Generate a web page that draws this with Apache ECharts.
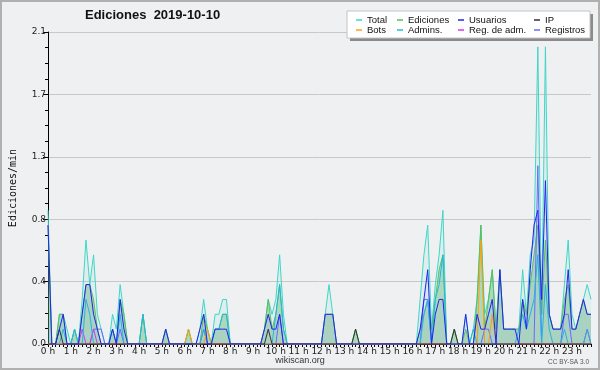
<!DOCTYPE html>
<html><head><meta charset="utf-8">
<script src="https://cdn.jsdelivr.net/npm/echarts@6/dist/echarts.min.js"></script>
<style>html,body{margin:0;padding:0;background:#eff0f1}#c{width:600px;height:370px}</style>
</head><body><div id="c"></div>
<script>
const hourLabels = ['0 h','1 h','2 h','3 h','4 h','5 h','6 h','7 h','8 h','9 h','10 h','11 h','12 h','13 h','14 h','15 h','16 h','17 h','18 h','19 h','20 h','21 h','22 h','23 h'];
const minuteSlots = ['00','10','20','30','40','50'];
const yTicks = [0, 0.42, 0.84, 1.26, 1.68, 2.1];

const total = [
 0.9,0,0,0.2,0.2,0.1, 0,0.1,0,0.3,0.7,0.4,
 0.6,0.2,0.1,0,0,0.2, 0.1,0.4,0.2,0,0,0,
 0,0.2,0,0,0,0, 0,0.1,0,0,0,0,
 0,0.1,0,0,0.1,0.3, 0.1,0,0.2,0.2,0.3,0.3,
 0,0,0,0,0,0, 0,0,0,0.1,0.3,0.2,
 0.3,0.6,0.2,0,0,0, 0,0,0,0,0,0,
 0,0.2,0.4,0.2,0,0, 0,0,0,0.1,0,0,
 0,0,0,0,0,0, 0,0,0,0,0,0,
 0,0,0.3,0.6,0.8,0.1, 0.4,0.6,0.9,0,0,0.1,
 0,0,0.2,0,0.1,0.3, 0.8,0.2,0.3,0.5,0.1,0.5,
 0.1,0.1,0.1,0.1,0.1,0.5, 0.2,0.6,0.7,2.0,0.2,2.0,
 0.2,0.1,0.1,0.1,0.4,0.7, 0.2,0.1,0.2,0.3,0.4,0.3
];
const ediciones = [
 0.8,0,0,0.2,0.2,0, 0,0.1,0,0.2,0.4,0.4,
 0.3,0.1,0,0,0,0.1, 0,0.3,0.2,0,0,0,
 0,0.2,0,0,0,0, 0,0.1,0,0,0,0,
 0,0.1,0,0,0,0.2, 0.1,0,0.1,0.1,0.2,0.2,
 0,0,0,0,0,0, 0,0,0,0.1,0.3,0.1,
 0.2,0.4,0.1,0,0,0, 0,0,0,0,0,0,
 0,0.2,0.2,0.2,0,0, 0,0,0,0.1,0,0,
 0,0,0,0,0,0, 0,0,0,0,0,0,
 0,0,0.1,0.2,0.3,0.1, 0.3,0.5,0.6,0,0,0.1,
 0,0,0.1,0,0,0.3, 0.8,0.1,0.3,0.5,0.1,0.5,
 0.1,0.1,0.1,0.1,0.1,0.3, 0.2,0.4,0.6,0.8,0.2,0.7,
 0.2,0.1,0.1,0.1,0.3,0.4, 0.1,0.1,0.2,0.3,0.2,0.2
];
const usuarios = [
 0.8,0,0,0.1,0.2,0, 0,0,0,0.2,0.4,0.4,
 0.2,0.1,0,0,0,0.1, 0,0.3,0.1,0,0,0,
 0,0,0,0,0,0, 0,0.1,0,0,0,0,
 0,0,0,0,0.1,0.2, 0,0,0.1,0.1,0.1,0.1,
 0,0,0,0,0,0, 0,0,0,0.1,0.2,0.1,
 0.1,0.2,0,0,0,0, 0,0,0,0,0,0,
 0,0.2,0.2,0.2,0,0, 0,0,0,0,0,0,
 0,0,0,0,0,0, 0,0,0,0,0,0,
 0,0,0.1,0.3,0.5,0, 0.2,0.3,0.3,0,0,0,
 0,0,0.2,0,0,0.2, 0.1,0.1,0.2,0.3,0,0.5,
 0.1,0.1,0.1,0.1,0,0.3, 0.1,0.5,0.8,0.9,0.3,1.1,
 0.2,0.1,0.1,0.1,0.2,0.5, 0.1,0.1,0.2,0.3,0.2,0.2
];
const ip = [
 0,0,0,0.1,0,0, 0,0,0,0,0,0,
 0,0,0,0,0,0, 0,0,0,0,0,0,
 0,0,0,0,0,0, 0,0,0,0,0,0,
 0,0,0,0,0,0, 0,0,0,0,0,0,
 0,0,0,0,0,0, 0,0,0,0,0.1,0,
 0,0,0,0,0,0, 0,0,0,0,0,0,
 0,0,0,0,0,0, 0,0,0,0.1,0,0,
 0,0,0,0,0,0, 0,0,0,0,0,0,
 0,0,0,0,0,0, 0,0,0,0,0,0.1,
 0,0,0,0,0,0, 0,0,0,0,0,0,
 0,0,0,0,0,0, 0,0,0,0,0,0,
 0,0,0,0,0,0, 0,0,0,0,0,0
];
const bots = [
 0,0,0,0,0,0, 0,0,0,0,0,0,
 0,0,0,0,0,0, 0,0,0,0,0,0,
 0,0,0,0,0,0, 0,0,0,0,0,0,
 0,0.1,0,0,0,0, 0.1,0,0,0,0,0,
 0,0,0,0,0,0, 0,0,0,0,0,0,
 0,0,0,0,0,0, 0,0,0,0,0,0,
 0,0,0,0,0,0, 0,0,0,0,0,0,
 0,0,0,0,0,0, 0,0,0,0,0,0,
 0,0,0,0,0,0, 0,0,0,0,0,0,
 0,0,0,0,0,0, 0.7,0,0,0.2,0,0,
 0,0,0,0,0,0, 0,0,0,0,0,0,
 0,0,0,0,0,0, 0,0,0,0,0,0
];
const admins = [
 0,0,0,0,0.1,0, 0,0.1,0,0,0.3,0.2,
 0,0,0,0,0,0.1, 0,0.2,0,0,0,0,
 0,0.2,0,0,0,0, 0,0,0,0,0,0,
 0,0,0,0,0,0.1, 0,0,0.1,0.1,0.2,0.2,
 0,0,0,0,0,0, 0,0,0,0,0,0,
 0.2,0.4,0.1,0,0,0, 0,0,0,0,0,0,
 0,0,0,0,0,0, 0,0,0,0,0,0,
 0,0,0,0,0,0, 0,0,0,0,0,0,
 0,0,0,0.2,0.3,0, 0.3,0.4,0.6,0,0,0,
 0,0,0,0,0.1,0, 0,0,0,0,0,0,
 0,0,0,0,0.1,0.2, 0.1,0.2,0.3,0.6,0,0.4,
 0.1,0,0,0,0.1,0, 0,0,0,0,0.1,0
];
const regAdm = [
 0,0,0,0,0,0, 0,0,0,0.1,0,0,
 0.1,0,0,0,0,0, 0,0,0,0,0,0,
 0,0,0,0,0,0, 0,0,0,0,0,0,
 0,0,0,0,0,0, 0,0,0,0,0,0,
 0,0,0,0,0,0, 0,0,0,0,0,0,
 0,0,0,0,0,0, 0,0,0,0,0,0,
 0,0,0,0,0,0, 0,0,0,0,0,0,
 0,0,0,0,0,0, 0,0,0,0,0,0,
 0,0,0,0,0,0, 0,0,0,0,0,0,
 0,0,0,0,0,0, 0,0,0,0,0,0,
 0,0,0,0,0,0, 0,0,0,0,0,0,
 0,0,0,0,0,0, 0,0,0,0,0.1,0
];
const registros = [
 0,0,0,0,0,0, 0,0,0,0,0,0,
 0.1,0.1,0.1,0,0,0, 0,0.1,0,0,0,0,
 0,0,0,0,0,0, 0,0,0,0,0,0,
 0,0,0,0,0,0.1, 0,0,0,0,0,0,
 0,0,0,0,0,0, 0,0,0,0,0,0,
 0,0.2,0,0,0,0, 0,0,0,0,0,0,
 0,0,0,0,0,0, 0,0,0,0,0,0,
 0,0,0,0,0,0, 0,0,0,0,0,0,
 0,0,0,0.3,0.3,0, 0,0,0,0,0,0,
 0,0,0,0,0,0, 0,0.1,0.1,0,0,0,
 0,0,0,0,0,0, 0,0,0,1.2,0,0,
 0,0,0,0,0.2,0.2, 0,0,0,0,0,0
];

const categories = [];
hourLabels.forEach((h, hi) => minuteSlots.forEach(m => categories.push(hi + ':' + m)));

const colors = {
  'Total': '#3fd6c8', 'Ediciones': '#5cbf5c', 'Usuarios': '#2222f0', 'IP': '#303030',
  'Bots': '#ffa010', 'Admins.': '#22b8e0', 'Reg. de adm.': '#dd33ee', 'Registros': '#6a6aff'
};
function line(name, data, extra) {
  return Object.assign({
    name, type: 'line', data, symbol: 'none', showSymbol: false,
    lineStyle: { width: 1, color: colors[name] }, itemStyle: { color: colors[name] },
    emphasis: { disabled: true }, animation: false
  }, extra || {});
}
const legFont = { fontFamily: 'Liberation Sans', fontSize: 9.5, color: '#111', lineHeight: 9 };
function leg(left, names) {
  return { orient: 'vertical', left, top: 15, itemGap: 0, itemWidth: 6, itemHeight: 1.5, icon: 'rect',
    data: names, textStyle: legFont, padding: 0, z: 10 };
}
const chart = echarts.init(document.getElementById('c'), null, { renderer: 'canvas' });
chart.setOption({
  backgroundColor: '#eff0f1',
  animation: false,
  title: { text: 'Ediciones  2019-10-10', left: 85, top: 9, padding: 0,
    textStyle: { fontFamily: 'Liberation Sans', fontWeight: 'bold', fontSize: 13, color: '#111' } },
  legend: [
    leg(356, ['Total', 'Bots']),
    leg(397, ['Ediciones', 'Admins.']),
    leg(458, ['Usuarios', 'Reg. de adm.']),
    leg(534, ['IP', 'Registros'])
  ],
  grid: { left: 45, right: 9, top: 32, bottom: 26 },
  xAxis: {
    type: 'category', data: categories, boundaryGap: false,
    axisLine: { lineStyle: { color: '#000', width: 1 } },
    axisTick: { interval: 0, length: 3, lineStyle: { color: '#000' } },
    axisLabel: { interval: 5, margin: 3, fontFamily: 'DejaVu Sans', fontSize: 9, color: '#222',
      formatter: (v, idx) => hourLabels[Math.floor(idx / 6)] },
    splitLine: { show: false }
  },
  yAxis: {
    type: 'value', min: yTicks[0], max: yTicks[yTicks.length - 1], interval: yTicks[1],
    name: 'Ediciones/min', nameLocation: 'middle', nameGap: 30,
    nameTextStyle: { fontFamily: 'DejaVu Sans Mono', fontSize: 10, color: '#111' },
    axisLine: { show: true, lineStyle: { color: '#000', width: 1 } },
    axisTick: { show: true, length: 5, lineStyle: { color: '#000' } },
    minorTick: { show: true, splitNumber: 4, length: 3, lineStyle: { color: '#000' } },
    axisLabel: { margin: 2, fontFamily: 'DejaVu Sans', fontSize: 9, color: '#222',
      formatter: v => v.toFixed(1) },
    splitLine: { lineStyle: { color: '#c8c8c8', width: 1 } }
  },
  series: [
    line('Total', total, { areaStyle: { color: 'rgba(64,214,200,0.13)' }, z: 1 }),
    line('Ediciones', ediciones, { areaStyle: { color: 'rgba(85,178,105,0.5)' }, z: 2 }),
    line('Registros', registros, { z: 3 }),
    line('Reg. de adm.', regAdm, { z: 3 }),
    line('Admins.', admins, { z: 3 }),
    line('Bots', bots, { z: 3 }),
    line('IP', ip, { z: 3 }),
    line('Usuarios', usuarios, { areaStyle: { color: 'rgba(90,90,255,0.06)' }, z: 4 })
  ],
  graphic: [
    { type: 'rect', z: 5, shape: { x: 350, y: 14, width: 243, height: 27 }, style: { fill: '#8a8a8a' } },
    { type: 'rect', z: 6, shape: { x: 347, y: 11, width: 243, height: 27 }, style: { fill: '#fff', stroke: '#c4c4c4', lineWidth: 1 } },
    { type: 'text', z: 6, x: 300, y: 361, style: { text: 'wikiscan.org', fontFamily: 'Liberation Sans', fontSize: 9,
      fill: '#333', textAlign: 'center', textVerticalAlign: 'middle' } },
    { type: 'text', z: 6, x: 589, y: 362, style: { text: 'CC BY-SA 3.0', fontFamily: 'Liberation Sans', fontSize: 6.5,
      fill: '#555', textAlign: 'right', textVerticalAlign: 'middle' } },
    { type: 'rect', z: 20, shape: { x: 1, y: 1, width: 598, height: 368 }, style: { fill: 'none', stroke: '#b0b0b0', lineWidth: 2 } }
  ]
});
</script></body></html>
